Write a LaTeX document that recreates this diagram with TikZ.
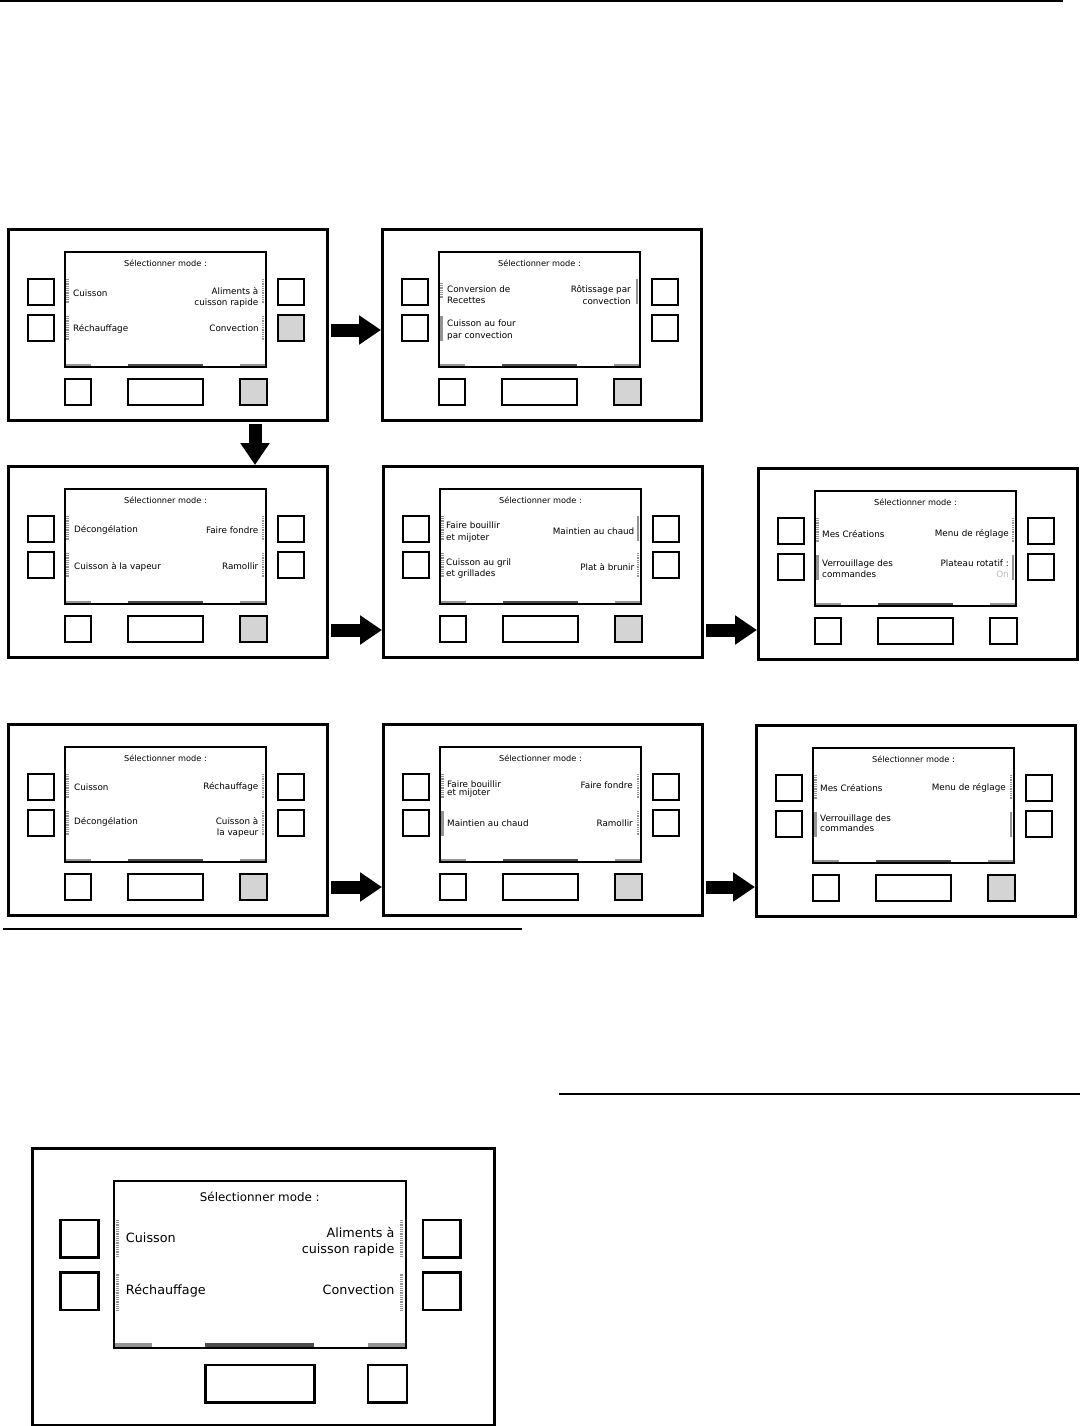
\documentclass[tikz,border=0pt]{standalone}
\usepackage{fontspec}
\setmainfont{DejaVu Sans}
\newfontfamily\uifont{DejaVu Sans}
\usetikzlibrary{arrows.meta}
\definecolor{btngray}{gray}{0.83}
\definecolor{barlight}{gray}{0.58}
\definecolor{bardark}{gray}{0.30}
\definecolor{tickgray}{gray}{0.58}
\definecolor{offgray}{gray}{0.72}
\newcommand\itemfont{\uifont\fontsize{8.8}{11.3}\selectfont}
\newcommand\tightfont{\uifont\fontsize{8.8}{8}\selectfont}
\newcommand\titlefont{\uifont\fontsize{8.2}{9}\selectfont}
\tikzset{
  panelbox/.style={draw, line width=2.9pt, inner sep=0pt, minimum width=319pt, minimum height=191pt, anchor=north west},
  btn/.style={draw, line width=2.7pt},
  scr/.style={draw, line width=2pt},
  hatchbar/.style={draw=tickgray, line width=2.6pt, dash pattern=on 0.9pt off 0.9pt},
  solidbar/.style={draw=tickgray, line width=2.6pt},
  lab/.style={inner sep=0pt, font=\itemfont, text=black},
  tlab/.style={inner sep=0pt, font=\tightfont, text=black},
  ttl/.style={inner sep=0pt, font=\titlefont, text=black},
  bigarrow/.style={line width=13pt, -{Triangle[length=22pt,width=28pt]}, shorten <=2pt},
  rule/.style={line width=1.6pt},
}
% #1 name, #2 fill of right lower button, #3 fill of bottom right button, #4 bottom-left button code
\newcommand\PanelFrame[4]{%
  \node[panelbox] (#1) at (0,0) {};
  \fill[barlight] (58,135.6) rectangle (84,138.6);
  \fill[bardark] (121,135.6) rectangle (196,138.6);
  \fill[barlight] (233,135.6) rectangle (259,138.6);
  \draw[scr] (58,24) rectangle (259,139);
  \draw[btn] (21,51) rectangle (47,77);
  \draw[btn] (21,87) rectangle (47,113);
  \draw[btn] (271,51) rectangle (297,77);
  \draw[btn, fill=#2] (271,87) rectangle (297,113);
  #4
  \draw[btn] (121,151) rectangle (196,177);
  \draw[btn, fill=#3] (233,151) rectangle (260,177);
  \node[ttl] (#1-t) at (158.5,35) {Sélectionner mode :};
}
\newcommand\BLbtn{\draw[btn] (58,151) rectangle (84,177);}
\newcommand\LA[1]{\draw[#1] (60.5,51) -- (60.5,76);}
\newcommand\LB[1]{\draw[#1] (60.5,88) -- (60.5,113);}
\newcommand\RA[1]{\draw[#1] (256,51) -- (256,76);}
\newcommand\RB[1]{\draw[#1] (256,88) -- (256,113);}
\begin{document}
\begin{tikzpicture}[x=1pt,y=-1pt]
\useasboundingbox (0,0) rectangle (1080,1426);
\draw[rule] (0,1) -- (1063,1);
\draw[rule] (3,929) -- (522,929);
\draw[rule] (559,1094) -- (1080,1094);

% P1
\begin{scope}[shift={(7,228)}]
  \PanelFrame{P1}{btngray}{btngray}{\BLbtn}
  \LA{hatchbar}\LB{hatchbar}\RA{hatchbar}\RB{hatchbar}
  \node[lab, anchor=west] (P1-a) at (66,65) {Cuisson};
  \node[lab, anchor=west] (P1-b) at (66,101) {Réchauffage};
  \node[lab, anchor=east, align=right] (P1-c) at (251.5,69.5) {Aliments à\\cuisson rapide};
  \node[lab, anchor=east] (P1-d) at (252,100) {Convection};
\end{scope}
% P2
\begin{scope}[shift={(381,228)}]
  \PanelFrame{P2}{white}{btngray}{\BLbtn}
  \draw[hatchbar] (60.5,55) -- (60.5,70);
  \LB{solidbar}\RA{solidbar}
  \node[lab, anchor=west, align=left] (P2-a) at (66,67) {Conversion de\\Recettes};
  \node[lab, anchor=west, align=left] (P2-b) at (66,102) {Cuisson au four\\par convection};
  \node[lab, anchor=east, align=right] (P2-c) at (250,67) {Rôtissage par\\convection};
\end{scope}
% P3
\begin{scope}[shift={(7,465)}]
  \PanelFrame{P3}{white}{btngray}{\BLbtn}
  \LA{hatchbar}\LB{hatchbar}\RA{hatchbar}\RB{hatchbar}
  \node[lab, anchor=west] (P3-a) at (67,65) {Décongélation};
  \node[lab, anchor=west] (P3-b) at (67,102) {Cuisson à la vapeur};
  \node[lab, anchor=east] (P3-c) at (251.5,65) {Faire fondre};
  \node[lab, anchor=east] (P3-d) at (251.5,101) {Ramollir};
\end{scope}
% P4
\begin{scope}[shift={(382,465)}]
  \PanelFrame{P4}{white}{btngray}{\BLbtn}
  \LA{hatchbar}\LB{hatchbar}\RA{solidbar}\RB{hatchbar}
  \node[lab, anchor=west, align=left] (P4-a) at (64,67) {Faire bouillir\\et mijoter};
  \node[lab, anchor=west, align=left] (P4-b) at (64,103.5) {Cuisson au gril\\et grillades};
  \node[lab, anchor=east] (P4-c) at (252.5,66) {Maintien au chaud};
  \node[lab, anchor=east] (P4-d) at (252.5,102) {Plat à brunir};
\end{scope}
% P5
\begin{scope}[shift={(757,467)}]
  \PanelFrame{P5}{white}{white}{\BLbtn}
  \LA{hatchbar}\LB{solidbar}\RA{hatchbar}\RB{solidbar}
  \node[lab, anchor=west] (P5-a) at (65,67) {Mes Créations};
  \node[lab, anchor=west, align=left] (P5-b) at (65,102) {Verrouillage des\\commandes};
  \node[lab, anchor=east] (P5-c) at (252,67) {Menu de réglage};
  \node[lab, anchor=east, align=right] (P5-d) at (252,101.5) {Plateau rotatif :\\\textcolor{offgray}{On}};
\end{scope}
% P6
\begin{scope}[shift={(7,723)}]
  \PanelFrame{P6}{white}{btngray}{\BLbtn}
  \LA{hatchbar}\LB{hatchbar}\RA{hatchbar}\RB{hatchbar}
  \node[lab, anchor=west] (P6-a) at (67,64) {Cuisson};
  \node[lab, anchor=west] (P6-b) at (67,99) {Décongélation};
  \node[lab, anchor=east] (P6-c) at (251.5,64) {Réchauffage};
  \node[lab, anchor=east, align=right] (P6-d) at (251.5,104.5) {Cuisson à\\la vapeur};
\end{scope}
% P7
\begin{scope}[shift={(382,723)}]
  \PanelFrame{P7}{white}{btngray}{\BLbtn}
  \LA{hatchbar}\LB{solidbar}\RA{hatchbar}\RB{hatchbar}
  \node[tlab, anchor=west, align=left] (P7-a) at (65,66) {Faire bouillir\\et mijoter};
  \node[lab, anchor=west] (P7-b) at (65,100) {Maintien au chaud};
  \node[lab, anchor=east] (P7-c) at (251,62) {Faire fondre};
  \node[lab, anchor=east] (P7-d) at (251,100) {Ramollir};
\end{scope}
% P8
\begin{scope}[shift={(755,724)}]
  \PanelFrame{P8}{white}{btngray}{\BLbtn}
  \LA{hatchbar}\LB{solidbar}\RA{hatchbar}\RB{solidbar}
  \node[lab, anchor=west] (P8-a) at (65,64) {Mes Créations};
  \node[tlab, anchor=west, align=left] (P8-b) at (65,99) {Verrouillage des\\commandes};
  \node[lab, anchor=east] (P8-c) at (251,64) {Menu de réglage};
\end{scope}
% Big panel
\begin{scope}[shift={(30,1146)}, scale=1.45, every node/.append style={transform shape}]
  \PanelFrame{PB}{white}{white}{}
  \LA{hatchbar}\LB{hatchbar}\RA{hatchbar}\RB{hatchbar}
  \node[lab, anchor=west] (PB-a) at (66,63.4) {Cuisson};
  \node[lab, anchor=west] (PB-b) at (66,100) {Réchauffage};
  \node[lab, anchor=east, align=right] (PB-c) at (251.5,66) {Aliments à\\cuisson rapide};
  \node[lab, anchor=east] (PB-d) at (251.5,99.3) {Convection};
\end{scope}

% arrows
\coordinate (ya) at (0,330);
\coordinate (yb) at (0,630);
\coordinate (yc) at (0,887);
\coordinate (xd) at (255,0);
\draw[bigarrow] (P1.east |- ya) -- (P2.west |- ya);
\draw[bigarrow] (P1.south -| xd) -- (P3.north -| xd);
\draw[bigarrow] (P3.east |- yb) -- (P4.west |- yb);
\draw[bigarrow] (P4.east |- yb) -- (P5.west |- yb);
\draw[bigarrow] (P6.east |- yc) -- (P7.west |- yc);
\draw[bigarrow] (P7.east |- yc) -- (P8.west |- yc);
\end{tikzpicture}
\end{document}
